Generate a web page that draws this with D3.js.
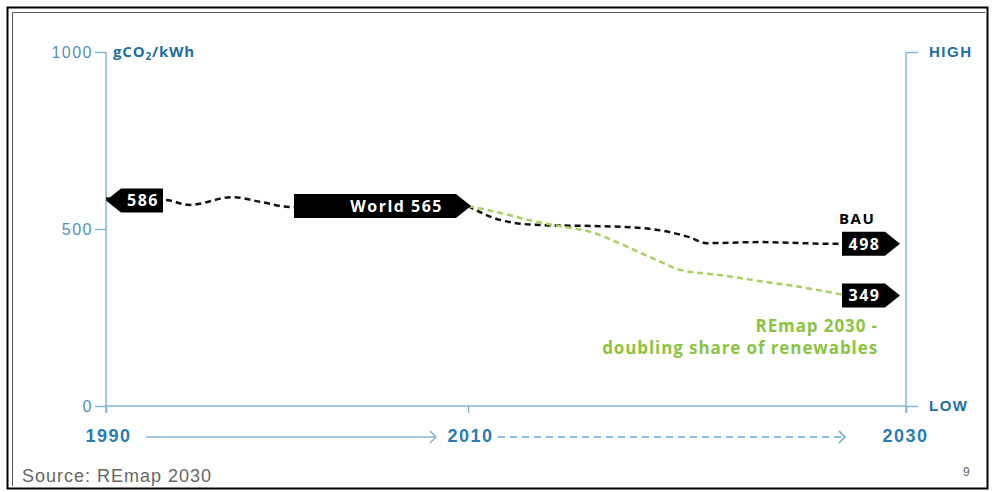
<!DOCTYPE html>
<html>
<head>
<meta charset="utf-8">
<script src="https://cdn.jsdelivr.net/npm/d3@7"></script>
<style>
	body { margin: 0; background: #fff; }
	svg { display: block; font-family: "Open Sans", sans-serif; }
</style>
</head>
<body>
<div id="chart"></div>
<script>
'use strict';

// historic world line, 1990 - 2010
var worldYears = [1990, 1993.3, 1994.6, 1997, 1998.6, 2000.2, 2005, 2010];
var worldValues = [586, 582, 568, 590, 576, 562, 564, 565];

// business as usual, 2010 - 2030
var bauYears = [2010, 2011.5, 2013.3, 2016, 2017.9, 2020.1, 2020.9, 2023.3, 2026.8, 2027.3];
var bauValues = [565, 525, 511, 508, 503, 477, 460, 463, 458, 458];

// REmap 2030, 2010 - 2030
var remapYears = [2010, 2011.5, 2012.8, 2014.2, 2015.6, 2016.9, 2018.8, 2019.7, 2021.5, 2023.3, 2025.2, 2027.3];
var remapValues = [565, 545, 525, 508, 492, 460, 407, 384, 370, 353, 336, 312];

var yTicks = [0, 500, 1000];
var yearTicks = [1990, 2010, 2030];
var calloutText = ['586', 'World 565', '498', '349'];

var width = 992, height = 492;
var axisColour = '#86b6d6';
var tickTextColour = '#4f93bd';
var titleColour = '#1d6f9f';

var svg = d3.select('#chart').append('svg')
	.attr('width', width)
	.attr('height', height);

// page frame
svg.append('rect')
	.attr('x', 7.5).attr('y', 7.5)
	.attr('width', 980).attr('height', 481)
	.attr('fill', 'none')
	.attr('stroke', '#000')
	.attr('stroke-width', 2);
svg.append('path')
	.attr('d', 'M12.5,486V12.5H985')
	.attr('fill', 'none')
	.attr('stroke', '#555')
	.attr('stroke-width', 1);

var x = d3.scaleLinear().domain(yearTicks).range([106, 468, 906]);
var y = d3.scaleLinear().domain([0, 1000]).range([406, 52]);

// left axis
var yAxis = svg.append('g')
	.attr('transform', 'translate(106,0)')
	.call(d3.axisLeft(y).tickValues(yTicks).tickSize(11).tickPadding(2)
		.tickFormat(d3.format('d')));
yAxis.select('.domain').remove();
yAxis.selectAll('.tick line').attr('stroke', axisColour).attr('stroke-width', 1.5);
yAxis.selectAll('.tick text')
	.attr('fill', tickTextColour)
	.style('font-size', '16px')
	.style('letter-spacing', '1.5px');

svg.append('line')
	.attr('x1', 106).attr('x2', 106)
	.attr('y1', y(1000)).attr('y2', 413)
	.attr('stroke', axisColour).attr('stroke-width', 1.5);

svg.append('text')
	.attr('x', 113).attr('y', 57)
	.attr('fill', titleColour)
	.style('font-size', '15px')
	.style('font-weight', 700)
	.style('letter-spacing', '0.8px')
	.html('gCO<tspan font-size="10" dy="3">2</tspan><tspan dy="-3">/kWh</tspan>');

// right axis (high / low)
var yRight = svg.append('g')
	.attr('transform', 'translate(906,0)')
	.call(d3.axisRight(y).tickValues([0, 1000]).tickSize(12).tickPadding(11)
		.tickFormat(function (d) { return d === 0 ? 'LOW' : 'HIGH'; }));
yRight.select('.domain').remove();
yRight.selectAll('.tick line').attr('stroke', axisColour).attr('stroke-width', 1.5);
yRight.selectAll('.tick text')
	.attr('fill', titleColour)
	.style('font-size', '15px')
	.style('font-weight', 700)
	.style('letter-spacing', '1.5px');

svg.append('line')
	.attr('x1', 906).attr('x2', 906)
	.attr('y1', y(1000)).attr('y2', 413)
	.attr('stroke', axisColour).attr('stroke-width', 1.5);

// bottom axis
var xAxis = svg.append('g')
	.attr('transform', 'translate(0,' + y(0) + ')')
	.call(d3.axisBottom(x).tickValues(yearTicks).tickSize(7).tickPadding(16)
		.tickFormat(d3.format('d')));
xAxis.select('.domain')
	.attr('d', 'M106,0H906')
	.attr('stroke', axisColour).attr('stroke-width', 1.5);
xAxis.selectAll('.tick line').attr('stroke', axisColour).attr('stroke-width', 1.5);
xAxis.selectAll('.tick text')
	.attr('fill', '#2a7db0')
	.style('font-size', '18px')
	.style('font-weight', 700)
	.style('letter-spacing', '1.5px')
	.attr('dx', function (d) { return d === 2030 ? -1 : 2; });

// time arrows under the axis
var arrowY = 437;
svg.append('line')
	.attr('x1', x(1990) + 40).attr('x2', x(2010) - 32)
	.attr('y1', arrowY).attr('y2', arrowY)
	.attr('stroke', axisColour).attr('stroke-width', 1.5);
svg.append('line')
	.attr('x1', x(2010) + 30).attr('x2', x(2030) - 61)
	.attr('y1', arrowY).attr('y2', arrowY)
	.attr('stroke', '#6aa9cf').attr('stroke-width', 1.5)
	.attr('stroke-dasharray', '7,5');
[x(2010) - 32, x(2030) - 61].forEach(function (tip, i) {
	svg.append('path')
		.attr('d', 'M' + (tip - 6) + ',' + (arrowY - 6) + 'L' + tip + ',' + arrowY + 'L' + (tip - 6) + ',' + (arrowY + 6))
		.attr('fill', 'none')
		.attr('stroke', i === 0 ? axisColour : '#6aa9cf')
		.attr('stroke-width', 1.5);
});

// dashed lines
var line = d3.line()
	.curve(d3.curveMonotoneX)
	.x(function (d) { return x(d[0]); })
	.y(function (d) { return y(d[1]); });

function series(years, values) {
	return years.map(function (yr, i) { return [yr, values[i]]; });
}

svg.append('path')
	.datum(series(worldYears, worldValues))
	.attr('d', line)
	.attr('fill', 'none')
	.attr('stroke', '#111')
	.attr('stroke-width', 2.5)
	.attr('stroke-dasharray', '6,4');

svg.append('path')
	.datum(series(bauYears, bauValues))
	.attr('d', line)
	.attr('fill', 'none')
	.attr('stroke', '#111')
	.attr('stroke-width', 2.5)
	.attr('stroke-dasharray', '6,4');

svg.append('path')
	.datum(series(remapYears, remapValues))
	.attr('d', line)
	.attr('fill', 'none')
	.attr('stroke', '#a8d063')
	.attr('stroke-width', 2.5)
	.attr('stroke-dasharray', '6,4');

// callouts: pentagon boxes pointing at the line ends
function callout(tipX, cy, boxW, dir, label, anchor) {
	var h = 24, tipLen = 15, top = cy - h / 2, bottom = cy + h / 2;
	var d, tx;
	if (dir < 0) {
		d = 'M' + tipX + ',' + cy + 'L' + (tipX + tipLen) + ',' + top +
			'H' + (tipX + tipLen + boxW) + 'V' + bottom + 'H' + (tipX + tipLen) + 'Z';
		tx = tipX + tipLen + boxW / 2 + 1;
	} else {
		d = 'M' + tipX + ',' + cy + 'L' + (tipX - tipLen) + ',' + top +
			'H' + (tipX - tipLen - boxW) + 'V' + bottom + 'H' + (tipX - tipLen) + 'Z';
		tx = anchor === 'end' ? tipX - tipLen - 13 : tipX - tipLen - boxW / 2 + 1;
	}
	svg.append('path').attr('d', d).attr('fill', '#000');
	svg.append('text')
		.attr('x', tx).attr('y', cy)
		.attr('dy', '0.36em')
		.attr('text-anchor', anchor || 'middle')
		.attr('fill', '#fff')
		.style('font-size', '16px')
		.style('font-weight', 700)
		.style('letter-spacing', '1.5px')
		.text(label);
}

callout(x(1990), y(worldValues[0]) + 2, 42, -1, calloutText[0]);
callout(x(2010) + 3, y(worldValues[worldValues.length - 1]), 162, 1, calloutText[1], 'end');
callout(x(2030) - 6, y(bauValues[bauValues.length - 1]), 43, 1, calloutText[2]);
callout(x(2030) - 6, y(remapValues[remapValues.length - 1]), 43, 1, calloutText[3]);

svg.append('text')
	.attr('x', 839).attr('y', 224)
	.attr('fill', '#000')
	.style('font-size', '15px')
	.style('font-weight', 700)
	.style('letter-spacing', '1.5px')
	.text('BAU');

var green = svg.append('text')
	.attr('text-anchor', 'end')
	.attr('fill', '#8cc43f')
	.style('font-size', '17px')
	.style('font-weight', 700)
	.style('letter-spacing', '0.9px');
green.append('tspan').attr('x', 878).attr('y', 332).text('REmap 2030 -');
green.append('tspan').attr('x', 878).attr('y', 354).text('doubling share of renewables');

svg.append('text')
	.attr('x', 22).attr('y', 482)
	.attr('fill', '#666')
	.style('font-family', '"Liberation Sans", Arial, sans-serif')
	.style('font-size', '18px')
	.style('letter-spacing', '1px')
	.text('Source: REmap 2030');

svg.append('text')
	.attr('x', 963).attr('y', 476)
	.attr('fill', '#666')
	.style('font-family', '"Liberation Sans", Arial, sans-serif')
	.style('font-size', '12px')
	.text('9');
</script>
</body>
</html>
